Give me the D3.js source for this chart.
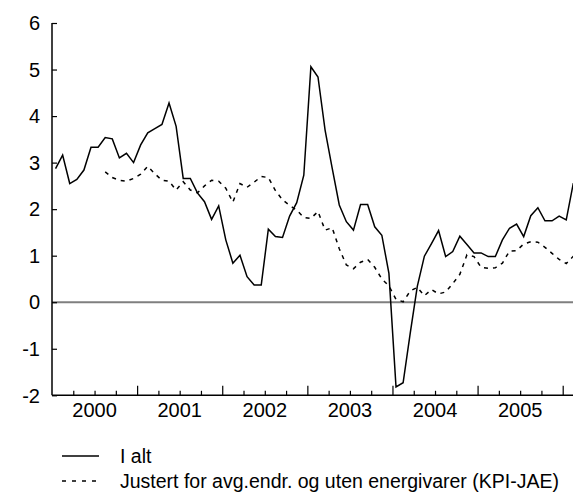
<!DOCTYPE html>
<html><head><meta charset="utf-8">
<script src="https://cdn.jsdelivr.net/npm/d3@7"></script>
<style>body{margin:0;background:#fff}svg{display:block}text{font-family:"Liberation Sans",Arial,sans-serif}</style>
</head><body><svg id="c" width="573" height="493"></svg>
<script>
const years = ["2000","2001","2002","2003","2004","2005"];
const yTicks = [-2,-1,0,1,2,3,4,5,6];
const seriesNames = ["I alt","Justert for avg.endr. og uten energivarer (KPI-JAE)"];
// monthly values, Jan 2000 .. Feb 2006
const total = [2.87,3.16,2.55,2.64,2.84,3.33,3.33,3.54,3.51,3.10,3.20,3.00,
 3.38,3.64,3.73,3.82,4.28,3.78,2.66,2.66,2.35,2.16,1.78,2.07,
 1.34,0.84,1.01,0.55,0.37,0.37,1.57,1.41,1.39,1.85,2.14,2.73,
 5.06,4.84,3.70,2.88,2.09,1.73,1.55,2.10,2.10,1.62,1.44,0.62,
 -1.82,-1.73,-0.67,0.34,0.99,1.26,1.54,0.98,1.09,1.42,1.24,1.06,
 1.06,0.98,0.98,1.34,1.59,1.68,1.41,1.86,2.03,1.75,1.75,1.85,
 1.77,2.56];
// KPI-JAE, Aug 2000 .. Feb 2006
const jaeStart = 7;
const jae = [2.80,2.68,2.62,2.60,2.66,
 2.75,2.92,2.76,2.62,2.60,2.41,2.59,2.41,2.35,2.50,2.62,2.60,
 2.45,2.15,2.55,2.47,2.58,2.70,2.68,2.40,2.20,2.08,1.98,1.82,
 1.80,1.95,1.55,1.60,1.15,0.80,0.72,0.86,0.92,0.75,0.50,0.35,
 0.06,0.01,0.24,0.32,0.14,0.27,0.18,0.22,0.40,0.60,1.02,0.98,
 0.75,0.73,0.74,0.84,1.10,1.11,1.25,1.30,1.29,1.18,1.05,0.92,
 0.83,0.99];

const svg = d3.select("#c");
const x = d3.scaleLinear().domain([0,72]).range([52,562.7]);
const y = d3.scaleLinear().domain([-2,6]).range([395.3,23]);
const FS = 20;

// zero line
svg.append("line").attr("x1",x(0)).attr("x2",573).attr("y1",y(0)).attr("y2",y(0))
  .attr("stroke","#7f7f7f").attr("stroke-width",2);

// y axis
const ya = svg.append("g").attr("transform",`translate(${x(0)},0)`)
  .call(d3.axisRight(y).tickValues(yTicks).tickSize(5).tickFormat(""));
ya.select(".domain").attr("stroke","#000").attr("stroke-width",1.5).attr("d",`M0,${y(6)}V${y(-2)}`);
ya.selectAll(".tick line").attr("stroke","#000").attr("stroke-width",1.2);
svg.append("g").selectAll("text").data(yTicks).join("text")
  .attr("x",40).attr("y",d=>y(d)).attr("dy","0.36em").attr("text-anchor","end")
  .attr("font-size",FS).attr("fill","#000").text(d=>d);

// x axis
const quarterTicks = d3.range(3,73,3).filter(d=>d%12!==0);
const yearTicks = d3.range(12,73,12);
const xa = svg.append("g").attr("transform",`translate(0,${y(-2)})`)
  .call(d3.axisTop(x).tickValues(quarterTicks).tickSize(4.5).tickFormat(""));
xa.select(".domain").attr("stroke","#000").attr("stroke-width",1.5).attr("d",`M${x(0)},0H573`);
xa.selectAll(".tick line").attr("stroke","#000").attr("stroke-width",1.2);
const xb = svg.append("g").attr("transform",`translate(0,${y(-2)})`)
  .call(d3.axisTop(x).tickValues(yearTicks).tickSize(9.5).tickFormat(""));
xb.select(".domain").remove();
xb.selectAll(".tick line").attr("stroke","#000").attr("stroke-width",1.2);
svg.append("g").selectAll("text").data(years).join("text")
  .attr("x",(d,i)=>x(i*12+6)).attr("y",417).attr("text-anchor","middle")
  .attr("font-size",FS).attr("fill","#000").text(d=>d);

// lines
const line = d3.line().x(d=>x(d.i+0.5)).y(d=>y(d.v));
svg.append("path").datum(jae.map((v,k)=>({i:k+jaeStart,v})))
  .attr("d",line).attr("fill","none").attr("stroke","#000").attr("stroke-width",1.5)
  .attr("stroke-dasharray","4,5");
svg.append("path").datum(total.map((v,i)=>({i,v})))
  .attr("d",line).attr("fill","none").attr("stroke","#000").attr("stroke-width",1.5);

// legend
const lg = svg.append("g");
const ly = [456,481];
lg.append("line").attr("x1",62).attr("x2",99).attr("y1",ly[0]).attr("y2",ly[0])
  .attr("stroke","#000").attr("stroke-width",1.3);
lg.append("line").attr("x1",62).attr("x2",99).attr("y1",ly[1]).attr("y2",ly[1])
  .attr("stroke","#000").attr("stroke-width",1.3).attr("stroke-dasharray","4,6");
lg.selectAll("text").data(seriesNames).join("text")
  .attr("x",120).attr("y",(d,i)=>ly[i]).attr("dy","0.36em")
  .attr("font-size",19.5).attr("fill","#000").text(d=>d);
</script></body></html>
